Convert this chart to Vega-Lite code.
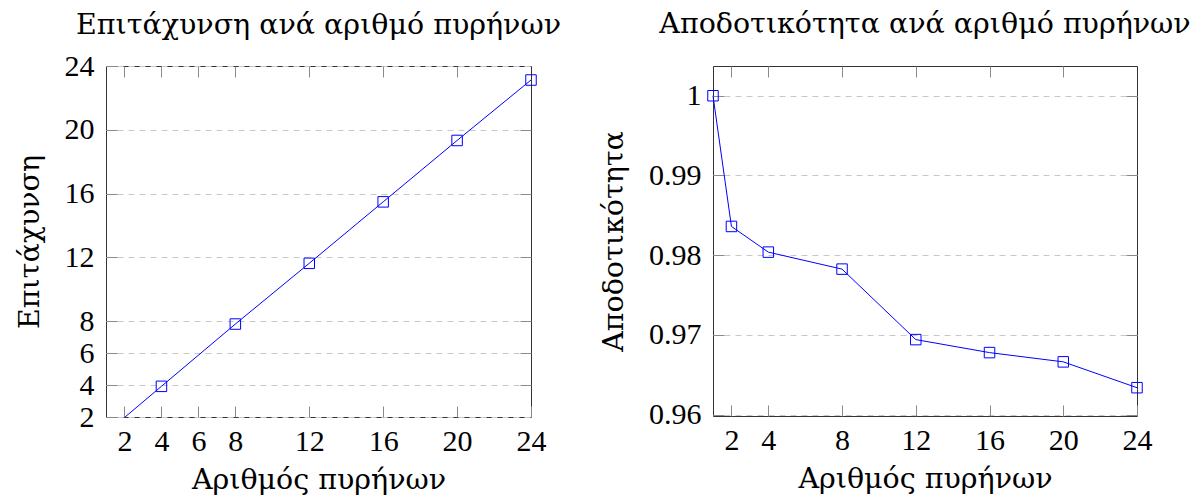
{
  "$schema": "https://vega.github.io/schema/vega-lite/v6.json",
  "background": "white",
  "padding": {"left": 14, "top": 9, "right": 5, "bottom": 5},
  "bounds": "flush",
  "spacing": 182,
  "datasets": {
    "speedup": [
      {"cores": 1, "speedup": 1},
      {"cores": 2, "speedup": 1.967},
      {"cores": 4, "speedup": 3.922},
      {"cores": 8, "speedup": 7.826},
      {"cores": 12, "speedup": 11.633},
      {"cores": 16, "speedup": 15.485},
      {"cores": 20, "speedup": 19.333},
      {"cores": 24, "speedup": 23.121}
    ],
    "efficiency": [
      {"cores": 1, "efficiency": 1.0},
      {"cores": 2, "efficiency": 0.98361},
      {"cores": 4, "efficiency": 0.98039},
      {"cores": 8, "efficiency": 0.97826},
      {"cores": 12, "efficiency": 0.96942},
      {"cores": 16, "efficiency": 0.96779},
      {"cores": 20, "efficiency": 0.96663},
      {"cores": 24, "efficiency": 0.96339}
    ]
  },
  "hconcat": [
    {
      "width": 425,
      "height": 351,
      "title": {"text": "Επιτάχυνση ανά αριθμό πυρήνων", "offset": -11, "baseline": "alphabetic"},
      "data": {"name": "speedup"},
      "layer": [
        {
          "mark": {"type": "line", "color": "#0000ff", "strokeWidth": 1, "clip": true},
          "encoding": {
            "x": {"field": "cores", "type": "quantitative",
              "scale": {"domain": [1, 24], "nice": false, "zero": false},
              "axis": {"orient": "bottom", "values": [2, 4, 6, 8, 12, 16, 20, 24], "title": "Αριθμός πυρήνων", "grid": false}},
            "y": {"field": "speedup", "type": "quantitative",
              "scale": {"domain": [2, 24], "nice": false, "zero": false},
              "axis": {"orient": "left", "values": [2, 4, 6, 8, 12, 16, 20, 24], "title": "Επιτάχυνση", "grid": true}}
          }
        },
        {
          "transform": [{"filter": "datum.speedup >= 2"}],
          "mark": {"type": "point", "shape": "square", "size": 110, "filled": false, "color": "#0000ff", "strokeWidth": 1, "opacity": 1},
          "encoding": {
            "x": {"field": "cores", "type": "quantitative",
              "axis": {"orient": "top", "values": [2, 4, 6, 8, 12, 16, 20], "labels": false, "title": null, "grid": false}},
            "y": {"field": "speedup", "type": "quantitative",
              "axis": {"orient": "right", "values": [4, 6, 8, 12, 16, 20], "labels": false, "title": null, "grid": false}}
          }
        }
      ],
      "resolve": {"axis": {"x": "independent", "y": "independent"}}
    },
    {
      "width": 424,
      "height": 350,
      "title": {"text": "Αποδοτικότητα ανά αριθμό πυρήνων", "offset": 4, "baseline": "alphabetic"},
      "data": {"name": "efficiency"},
      "layer": [
        {
          "mark": {"type": "line", "color": "#0000ff", "strokeWidth": 1},
          "encoding": {
            "x": {"field": "cores", "type": "quantitative",
              "scale": {"domain": [1, 24], "nice": false, "zero": false},
              "axis": {"orient": "bottom", "values": [2, 4, 8, 12, 16, 20, 24], "title": "Αριθμός πυρήνων", "grid": false}},
            "y": {"field": "efficiency", "type": "quantitative",
              "scale": {"domain": [0.95984, 1.00373], "nice": false, "zero": false},
              "axis": {"orient": "left", "values": [0.96, 0.97, 0.98, 0.99, 1], "format": ".2~f", "title": "Αποδοτικότητα", "grid": true}}
          }
        },
        {
          "mark": {"type": "point", "shape": "square", "size": 110, "filled": false, "color": "#0000ff", "strokeWidth": 1, "opacity": 1},
          "encoding": {
            "x": {"field": "cores", "type": "quantitative",
              "axis": {"orient": "top", "values": [2, 4, 8, 12, 16, 20], "labels": false, "title": null, "grid": false}},
            "y": {"field": "efficiency", "type": "quantitative",
              "axis": {"orient": "right", "values": [0.96, 0.97, 0.98, 0.99, 1], "labels": false, "title": null, "grid": false}}
          }
        }
      ],
      "resolve": {"axis": {"x": "independent", "y": "independent"}}
    }
  ],
  "config": {
    "font": "Liberation Serif",
    "view": {"stroke": "#333333", "strokeWidth": 1},
    "axis": {
      "labelFont": "Liberation Serif",
      "titleFont": "DejaVu Serif",
      "labelFontSize": 30,
      "titleFontSize": 28.5,
      "titleFontWeight": "normal",
      "labelColor": "#000000",
      "titleColor": "#000000",
      "domain": false,
      "tickColor": "#8a8a8a",
      "tickSize": -11,
      "tickWidth": 1,
      "labelPadding": 23,
      "gridColor": "#c8c8c8",
      "gridDash": [6, 5],
      "gridWidth": 1,
      "labelFlush": false,
      "labelOverlap": false
    },
    "axisX": {"titlePadding": 9, "labelPadding": 20},
    "axisY": {"titlePadding": 20},
    "title": {"font": "DejaVu Serif", "fontSize": 28.5, "fontWeight": "normal", "color": "#000000", "anchor": "middle"}
  }
}
